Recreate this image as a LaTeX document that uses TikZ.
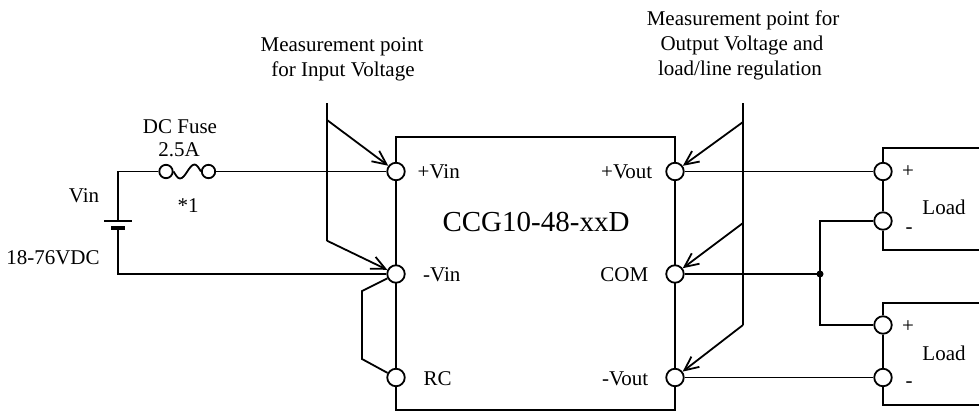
\documentclass[tikz,border=0pt]{standalone}
\usepackage{fontspec}
\setmainfont{Liberation Serif}
\usetikzlibrary{arrows.meta}
\begin{document}
\begin{tikzpicture}[x=1pt,y=-1pt,
  wire/.style={line width=1.8pt, line join=miter},
  term/.style={circle, draw, line width=1.8pt, fill=white, minimum size=17.5pt, inner sep=0pt},
  fusec/.style={circle, draw, line width=1.8pt, fill=white, minimum size=13.4pt, inner sep=0pt},
  meas/.style={line width=1.8pt, -{Straight Barb[length=14pt,width=13pt,line width=1.8pt]}},
  lbl/.style={font=\fontsize{21}{25}\selectfont, inner sep=0pt},
  big/.style={font=\fontsize{29}{34}\selectfont, inner sep=0pt},
]
\useasboundingbox (0,0) rectangle (979,413);

% main converter box
\draw[wire] (396,137) rectangle (675,410);

% terminals
\node[term] (vinp) at (396,171.5) {};
\node[term] (vinm) at (396,274) {};
\node[term] (rc) at (396,377.5) {};
\node[term] (voutp) at (675,171.5) {};
\node[term] (com) at (675,274) {};
\node[term] (voutm) at (675,377.5) {};
\node[term] (l1p) at (883,171.5) {};
\node[term] (l1m) at (883,221) {};
\node[term] (l2p) at (883,325) {};
\node[term] (l2m) at (883,377.5) {};

% fuse
\node[fusec] (f1) at (166,171.5) {};
\node[fusec] (f2) at (208.5,171.5) {};
\draw[wire] (f1.east) sin (180,178.5) cos (187.3,171.5) sin (194.5,164.5) cos (f2.west);

% battery
\coordinate (bt) at (118,220.7);
\coordinate (bb) at (118,228);
\draw[wire] (f1) -| (bt);
\draw[wire] (bb) |- (vinm);
\draw[line width=1.8pt] ([xshift=-14pt]bt) -- ([xshift=14pt]bt);
\draw[line width=4pt] ([xshift=-7pt]bb) -- ([xshift=7pt]bb);
\draw[wire] (f2) -- (vinp);

% input measurement
\coordinate (mi0) at (327,103);
\coordinate (mi1) at (327,120);
\coordinate (mi2) at (327,240.7);
\draw[wire] (mi0) -- (mi2);
\draw[meas] (mi1) -- (vinp);
\draw[meas] (mi2) -- (vinm);

% output measurement
\coordinate (mo0) at (743,103);
\coordinate (mo1) at (743,122);
\coordinate (mo2) at (743,223);
\coordinate (mo3) at (743,325);
\draw[wire] (mo0) -- (mo3);
\draw[meas] (mo1) -- (voutp);
\draw[meas] (mo2) -- (com);
\draw[meas] (mo3) -- (voutm);

% RC loop
\coordinate (rc1) at (362,291);
\coordinate (rc2) at (362,359);
\draw[wire] (vinm) -- (rc1) -- (rc2) -- (rc);

% outputs to loads
\coordinate (jn) at (820,274);
\coordinate (ja) at (820,221);
\coordinate (jb) at (820,325);
\draw[wire] (voutp) -- (l1p);
\draw[wire] (com) -- (jn);
\draw[wire] (l1m) -- (ja) -- (jb) -- (l2p);
\fill (jn) circle (3.5pt);
\draw[wire] (voutm) -- (l2m);

% load boxes
\draw[wire] (l1p) |- (990,148);
\draw[wire] (l1p) -- (l1m);
\draw[wire] (l1m) |- (990,250);
\draw[wire] (l2p) |- (990,303);
\draw[wire] (l2p) -- (l2m);
\draw[wire] (l2m) |- (990,405);

% labels
\node[lbl, anchor=base] (mia) at (342,51.7) {Measurement point};
\node[lbl, anchor=base] (mib) at (343,76.7) {for Input Voltage};
\node[lbl, anchor=base] (moa) at (743,25) {Measurement point for};
\node[lbl, anchor=base] (mob) at (742,50) {Output Voltage and};
\node[lbl, anchor=base] (moc) at (740,75) {load/line regulation};
\node[lbl, anchor=base] (tdc) at (180,133) {DC Fuse};
\node[lbl, anchor=base] (tamp) at (179,156.7) {2.5A};
\node[lbl, anchor=base] (tstar) at (188,212) {*1};
\node[lbl, anchor=base] (tvin) at (84,202.7) {Vin};
\node[lbl, anchor=base] (trange) at (53,264) {18-76VDC};
\node[lbl, anchor=base west] (tvinp) at (417.5,178) {+Vin};
\node[lbl, anchor=base west] (tvinm) at (423,281.7) {-Vin};
\node[lbl, anchor=base west] (trc) at (423.5,385) {RC};
\node[lbl, anchor=base east] (tvoutp) at (652.5,178) {+Vout};
\node[lbl, anchor=base east] (tcom) at (648.5,281.7) {COM};
\node[lbl, anchor=base east] (tvoutm) at (648.5,385) {-Vout};
\node[big, anchor=base] (tname) at (536,231.7) {CCG10-48-xxD};
\node[lbl, anchor=base] (tl1) at (944,214) {Load};
\node[lbl, anchor=base] (tl2) at (944,360.7) {Load};
\node[lbl, anchor=base] (tl1p) at (908,177.3) {+};
\node[lbl, anchor=base] (tl1m) at (909,233.7) {-};
\node[lbl, anchor=base] (tl2p) at (908,332) {+};
\node[lbl, anchor=base] (tl2m) at (909,387.7) {-};
\end{tikzpicture}
\end{document}
